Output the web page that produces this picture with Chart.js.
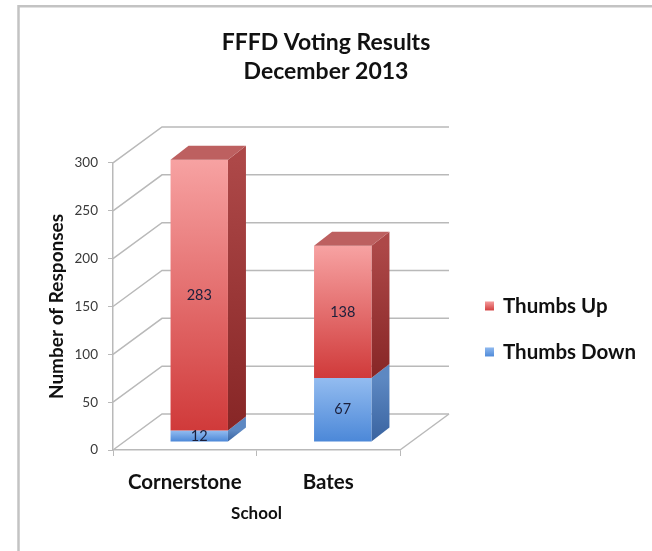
<!DOCTYPE html>
<html>
<head>
<meta charset="utf-8">
<title>FFFD Voting Results</title>
<script src="https://cdn.jsdelivr.net/npm/chart.js@4.4.1/dist/chart.umd.min.js"></script>
<style>
  html, body { margin: 0; padding: 0; background: #fff; overflow: hidden; }
  #wrap { width: 652px; height: 551px; }
</style>
</head>
<body>
<div id="wrap"><canvas id="votos" width="652" height="551"></canvas></div>
<script>
const schools = ["Cornerstone", "Bates"];
const thumbsDown = [12, 67];
const thumbsUp = [283, 138];
const yTicks = [0, 50, 100, 150, 200, 250, 300];

// fake 3D: wall depth, where the boxes sit, and how deep they are
const WALL = { dx: 49, dy: -36 };
const BAR_SHIFT = { dx: 14.5, dy: -8 };
const BAR_DEPTH = { dx: 18, dy: -14 };

const FONT = "Lato, 'Open Sans', sans-serif";
const GRID = "#b9b9b9";

const looks = {
  red:  { front: ["#f7a2a2", "#d03a3a"], side: ["#ad4848", "#872626"], top: "#bd6060" },
  blue: { front: ["#93bcf0", "#4c88d8"], side: ["#5d88c2", "#3963a0"], top: "#7aa0d4" },
};

function vGrad(ctx, top, bottom, stops) {
  const g = ctx.createLinearGradient(0, top, 0, bottom);
  g.addColorStop(0, stops[0]);
  g.addColorStop(1, stops[1]);
  return g;
}

function quad(ctx, pts, fill) {
  ctx.beginPath();
  ctx.moveTo(pts[0][0], pts[0][1]);
  for (let i = 1; i < pts.length; i++) ctx.lineTo(pts[i][0], pts[i][1]);
  ctx.closePath();
  ctx.fillStyle = fill;
  ctx.fill();
}

// grey frame around the whole chart
const frame = {
  id: "frame",
  beforeDraw(chart) {
    const ctx = chart.ctx;
    ctx.save();
    ctx.strokeStyle = "#c3c3c3";
    ctx.lineWidth = 2.5;
    ctx.strokeRect(18.5, 6.25, 700, 700);
    ctx.restore();
  },
};

// walls, floor and the boxes, drawn instead of the flat bars
const boxes3d = {
  id: "boxes3d",
  beforeDatasetsDraw(chart) {
    const { ctx, chartArea: a, scales: { y } } = chart;
    ctx.save();

    ctx.strokeStyle = GRID;
    ctx.lineWidth = 1.5;
    yTicks.forEach((v) => {
      const py = y.getPixelForValue(v);
      ctx.beginPath();
      ctx.moveTo(a.left, py);
      ctx.lineTo(a.left + WALL.dx, py + WALL.dy);
      ctx.lineTo(a.right + WALL.dx, py + WALL.dy);
      ctx.stroke();
    });
    ctx.beginPath();
    ctx.moveTo(a.right, a.bottom);
    ctx.lineTo(a.right + WALL.dx, a.bottom + WALL.dy);
    ctx.stroke();

    const sets = chart.data.datasets;
    const labels = [];
    schools.forEach((_, i) => {
      sets.forEach((ds, d) => {
        const el = chart.getDatasetMeta(d).data[i];
        const { x, y: yTop, base, width } = el.getProps(["x", "y", "base", "width"], true);
        const look = looks[ds.look];
        const l = x - width / 2 + BAR_SHIFT.dx;
        const r = l + width;
        const t = yTop + BAR_SHIFT.dy;
        const b = base + BAR_SHIFT.dy;
        const { dx, dy } = BAR_DEPTH;

        quad(ctx, [[r, t], [r + dx, t + dy], [r + dx, b + dy], [r, b]], vGrad(ctx, t, b, look.side));
        quad(ctx, [[l, t], [r, t], [r, b], [l, b]], vGrad(ctx, t, b, look.front));
        if (d === sets.length - 1) {
          quad(ctx, [[l, t], [r, t], [r + dx, t + dy], [l + dx, t + dy]], look.top);
        }
        labels.push({ text: String(ds.data[i]), x: (l + r) / 2, y: (t + b) / 2 });
      });
    });

    ctx.fillStyle = "#1b1f3b";
    ctx.font = "14.5px " + FONT;
    ctx.textAlign = "center";
    ctx.textBaseline = "middle";
    labels.forEach((lb) => ctx.fillText(lb.text, lb.x, lb.y));

    ctx.restore();
    return false;
  },
};

// legend on the right, top series first
const sideLegend = {
  id: "sideLegend",
  afterDraw(chart) {
    const { ctx, chartArea: a } = chart;
    const items = chart.data.datasets.slice().reverse();
    ctx.save();
    ctx.font = "bold 20.5px " + FONT;
    ctx.textBaseline = "middle";
    ctx.textAlign = "left";
    items.forEach((ds, k) => {
      const cy = a.top + 143 + k * 46;
      const bx = a.right + 85;
      ctx.fillStyle = vGrad(ctx, cy - 5, cy + 5, looks[ds.look].front);
      ctx.fillRect(bx, cy - 4.5, 9, 9);
      ctx.fillStyle = "#111";
      ctx.fillText(ds.label, bx + 18, cy);
    });
    ctx.restore();
  },
};

new Chart(document.getElementById("votos"), {
  type: "bar",
  data: {
    labels: schools,
    datasets: [
      { label: "Thumbs Down", data: thumbsDown, backgroundColor: "#4c88d8", look: "blue" },
      { label: "Thumbs Up", data: thumbsUp, backgroundColor: "#cf3b3b", look: "red" },
    ],
  },
  options: {
    responsive: false,
    animation: false,
    events: [],
    devicePixelRatio: 1,
    categoryPercentage: 1,
    barPercentage: 0.4,
    layout: { padding: { top: 0, left: 30, right: 30, bottom: 21 } },
    plugins: {
      legend: { display: false },
      tooltip: { enabled: false },
      title: {
        display: true,
        text: ["FFFD Voting Results", "December 2013"],
        color: "#111",
        font: { family: FONT, size: 23, weight: "bold", lineHeight: 1.26 },
        padding: { top: 28.5, bottom: 76.5 },
      },
    },
    scales: {
      x: {
        stacked: true,
        grid: { drawOnChartArea: false, tickLength: 6, color: GRID, offset: true },
        border: { color: GRID, width: 1.5 },
        ticks: { color: "#111", font: { family: FONT, size: 20.5, weight: "bold" }, padding: 14 },
        title: {
          display: true,
          text: "School",
          color: "#111",
          font: { family: FONT, size: 17, weight: "bold" },
          padding: { top: 0, bottom: 6 },
        },
        afterFit: (s) => { s.height = 80; },
      },
      y: {
        stacked: true,
        min: 0,
        max: 300,
        afterBuildTicks: (s) => { s.ticks = yTicks.map((v) => ({ value: v })); },
        grid: { drawOnChartArea: false, tickLength: 5, color: GRID },
        border: { color: GRID, width: 1.5 },
        ticks: { color: "#3a3a3a", font: { family: FONT, size: 13.5 }, padding: 10 },
        title: {
          display: true,
          text: "Number of Responses",
          color: "#111",
          font: { family: FONT, size: 19, weight: "bold" },
          padding: { top: 15.6, bottom: 0 },
        },
        afterFit: (s) => { s.width = 83; },
      },
      // empty axis that only keeps room for the legend
      legendRoom: {
        type: "linear",
        position: "right",
        ticks: { display: false },
        grid: { display: false },
        border: { display: false },
        afterFit: (s) => { s.width = 222; },
      },
    },
  },
  plugins: [frame, boxes3d, sideLegend],
});
</script>
</body>
</html>
